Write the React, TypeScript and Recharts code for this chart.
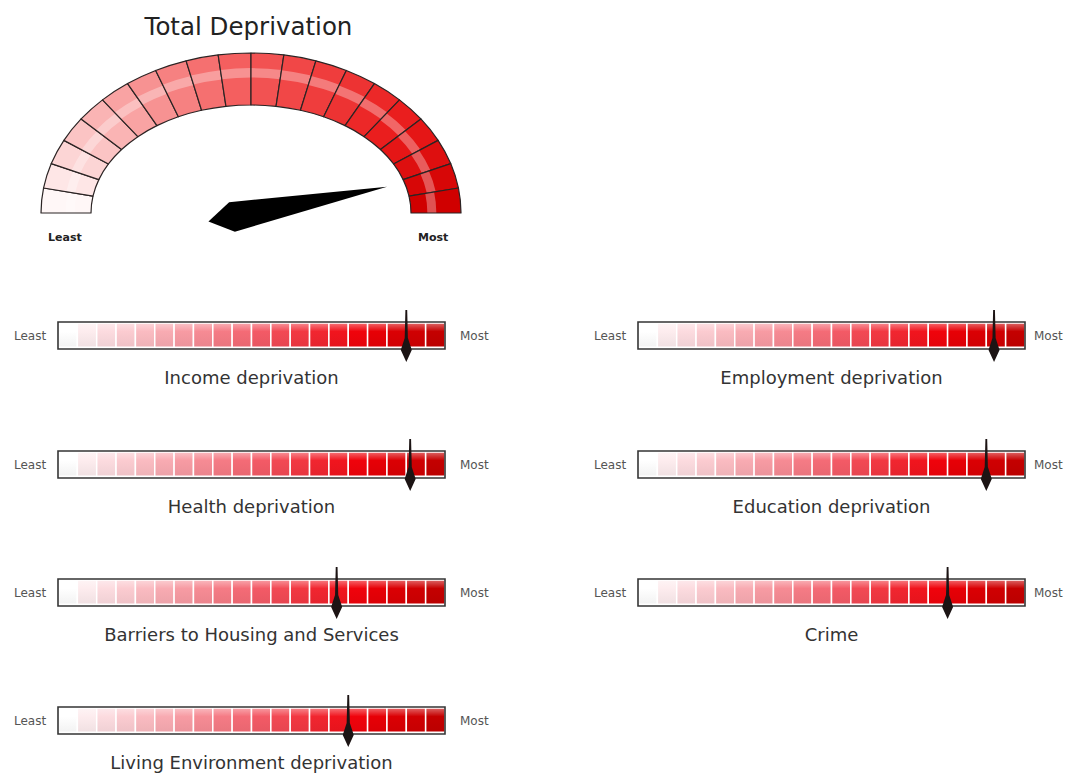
import React from "react";
import {
  PieChart,
  Pie,
  Cell,
  BarChart,
  Bar,
  XAxis,
  YAxis,
  ReferenceArea,
  ReferenceLine,
  Customized,
} from "recharts";

// Overall score on the dial, 0 = least deprived, 100 = most deprived
const totalScore = 92;
const dialSegments = [1, 1, 1, 1, 1, 1, 1, 1, 1, 1, 1, 1, 1, 1, 1, 1, 1, 1, 1, 1];
const scaleEnds = ["Least", "Most"];

// Domain scores on the same 0-100 scale
const domainTitles = [
  "Income deprivation",
  "Employment deprivation",
  "Health deprivation",
  "Education deprivation",
  "Barriers to Housing and Services",
  "Crime",
  "Living Environment deprivation",
];
const domainScores = [90, 92, 91, 90, 72, 80, 75];

// Twenty equal bands across each bar
const bandWidths = [5, 5, 5, 5, 5, 5, 5, 5, 5, 5, 5, 5, 5, 5, 5, 5, 5, 5, 5, 5];

const FONT = '"DejaVu Sans", "Noto Sans", sans-serif';
const DIAL = { cx: 251, cy: 213, ryOut: 160, ryIn: 108 };
const COLS = [0, 580];
const ROWS = [322, 451, 579, 707];

type Stop = [number, string];

function rgb(h: string) {
  return [1, 3, 5].map((i) => parseInt(h.slice(i, i + 2), 16));
}

function ramp(stops: Stop[], t: number) {
  let k = 0;
  while (k < stops.length - 2 && t > stops[k + 1][0]) k++;
  const [t0, c0] = stops[k];
  const [t1, c1] = stops[k + 1];
  const f = Math.min(1, Math.max(0, (t - t0) / (t1 - t0)));
  const a = rgb(c0);
  const b = rgb(c1);
  return `rgb(${a.map((v, i) => Math.round(v + (b[i] - v) * f)).join(",")})`;
}

function blend(color: string, target: number, f: number) {
  const m = color.match(/\d+/g)!.map(Number);
  return `rgb(${m.map((v) => Math.round(v + (target - v) * f)).join(",")})`;
}

const dialRamp: Stop[] = [
  [0, "#fff7f7"],
  [0.5, "#f35757"],
  [0.8, "#ea1c1c"],
  [1, "#d00000"],
];
const barRamp: Stop[] = [
  [0, "#ffffff"],
  [0.06, "#fde9ec"],
  [0.5, "#f3636f"],
  [0.8, "#f00008"],
  [1, "#c40000"],
];

function ellipsePoint(cx: number, cy: number, rx: number, ry: number, deg: number) {
  const r = (deg * Math.PI) / 180;
  return [cx + rx * Math.cos(r), cy - ry * Math.sin(r)];
}

function ringPath(
  cx: number,
  cy: number,
  rxO: number,
  ryO: number,
  rxI: number,
  ryI: number,
  a0: number,
  a1: number
) {
  const sweep = a0 > a1 ? 1 : 0;
  const [x0, y0] = ellipsePoint(cx, cy, rxO, ryO, a0);
  const [x1, y1] = ellipsePoint(cx, cy, rxO, ryO, a1);
  const [x2, y2] = ellipsePoint(cx, cy, rxI, ryI, a1);
  const [x3, y3] = ellipsePoint(cx, cy, rxI, ryI, a0);
  return `M${x0},${y0} A${rxO},${ryO} 0 0 ${sweep} ${x1},${y1} L${x2},${y2} A${rxI},${ryI} 0 0 ${1 - sweep} ${x3},${y3} Z`;
}

// Elliptical dial segment with a glossy band running through it
function DialSector(props: any) {
  const { cx, cy, startAngle, endAngle, innerRadius, outerRadius, fill } = props;
  const { ryOut, ryIn } = DIAL;
  const mid = ((startAngle + endAngle) / 2) * (Math.PI / 180);
  const c = 0.4 + 0.22 * Math.sin(mid);
  const at = (f: number) => [
    innerRadius + f * (outerRadius - innerRadius),
    ryIn + f * (ryOut - ryIn),
  ];
  const [bx0, by0] = at(c - 0.09);
  const [bx1, by1] = at(c + 0.09);
  const outline = ringPath(cx, cy, outerRadius, ryOut, innerRadius, ryIn, startAngle, endAngle);
  return (
    <g>
      <path d={outline} fill={fill} />
      <path
        d={ringPath(cx, cy, bx1, by1, bx0, by0, startAngle, endAngle)}
        fill="#ffffff"
        fillOpacity={0.32}
      />
      <path d={outline} fill="none" stroke="#2b2424" strokeWidth={1.2} strokeLinejoin="round" />
    </g>
  );
}

function DialNeedle() {
  const t = Math.PI * (1 - totalScore / 100);
  let dx = 210 * Math.cos(t);
  let dy = -DIAL.ryOut * Math.sin(t);
  const len = Math.hypot(dx, dy);
  dx /= len;
  dy /= len;
  const px = DIAL.cx - 19;
  const py = DIAL.cy + 4;
  const pts = [
    [px + 158 * dx, py + 158 * dy],
    [px - 15 * dy, py + 15 * dx],
    [px - 24 * dx, py - 24 * dy],
    [px + 15 * dy, py - 15 * dx],
  ];
  return <polygon points={pts.map((p) => p.join(",")).join(" ")} fill="#000" />;
}

// Thin pin that ends in a diamond just under the bar
function PinMarker(props: any) {
  const x = props.x1;
  const top = Math.min(props.y1, props.y2);
  const bottom = Math.max(props.y1, props.y2);
  const d = `M${x - 0.9},${top - 12} L${x + 0.9},${top - 12} L${x + 1.6},${bottom - 11} L${x + 5.5},${bottom + 1} L${x},${bottom + 13} L${x - 5.5},${bottom + 1} L${x - 1.6},${bottom - 11} Z`;
  return <path d={d} fill="#1c1414" />;
}

function DomainGauge({
  title,
  score,
  left,
  top,
  mostX,
}: {
  title: string;
  score: number;
  left: number;
  top: number;
  mostX: number;
}) {
  const row: Record<string, string | number> = { name: title };
  bandWidths.forEach((w, i) => (row[`b${i}`] = w));
  return (
    <>
      <div style={{ position: "absolute", left, top: top - 20, width: 500, height: 120 }}>
        <BarChart
          width={500}
          height={120}
          data={[row]}
          layout="vertical"
          margin={{ top: 20, right: 55, bottom: 73, left: 58 }}
          barCategoryGap={0}
        >
          <XAxis type="number" domain={[0, 100]} hide />
          <YAxis type="category" dataKey="name" hide />
          {bandWidths.map((_, i) => (
            <Bar
              key={i}
              dataKey={`b${i}`}
              stackId="scale"
              fill={`url(#cell${i})`}
              stroke="#ffffff"
              strokeWidth={1.5}
              barSize={27}
              isAnimationActive={false}
            />
          ))}
          <ReferenceArea
            x1={0}
            x2={100}
            fill="none"
            stroke="#353535"
            strokeWidth={1.6}
            zIndex={900}
          />
          <ReferenceLine x={score} shape={PinMarker} zIndex={1000} />
        </BarChart>
      </div>
      <div style={{ ...smallLabel, left: left + 14, top: top + 7 }}>{scaleEnds[0]}</div>
      <div style={{ ...smallLabel, left: mostX, top: top + 7 }}>{scaleEnds[1]}</div>
      <div
        style={{
          position: "absolute",
          left: left + 58,
          width: 387,
          top: top + 45,
          textAlign: "center",
          fontFamily: FONT,
          fontSize: 18,
          lineHeight: "22px",
          color: "#333",
          whiteSpace: "nowrap",
        }}
      >
        {title}
      </div>
    </>
  );
}

const smallLabel: React.CSSProperties = {
  position: "absolute",
  fontFamily: FONT,
  fontSize: 12,
  lineHeight: "14px",
  color: "#555",
  whiteSpace: "nowrap",
};

export default function App() {
  const dialData = dialSegments.map((v, i) => ({ name: `seg${i}`, value: v }));
  return (
    <div
      style={{
        position: "absolute",
        left: 0,
        top: 0,
        width: 1067,
        height: 773,
        overflow: "hidden",
        background: "#fff",
      }}
    >
      <svg width={0} height={0} style={{ position: "absolute" }}>
        <defs>
          {bandWidths.map((_, i) => {
            const c = ramp(barRamp, i / (bandWidths.length - 1));
            return (
              <linearGradient key={i} id={`cell${i}`} x1="0" y1="0" x2="0" y2="1">
                <stop offset="0%" stopColor={blend(c, 255, 0.4)} />
                <stop offset="35%" stopColor={c} />
                <stop offset="100%" stopColor={blend(c, 0, 0.05)} />
              </linearGradient>
            );
          })}
        </defs>
      </svg>

      <div
        style={{
          position: "absolute",
          left: 0,
          width: 497,
          top: 13,
          textAlign: "center",
          fontFamily: FONT,
          fontSize: 24.5,
          lineHeight: "28px",
          color: "#222",
        }}
      >
        Total Deprivation
      </div>

      <div style={{ position: "absolute", left: 0, top: 0 }}>
        <PieChart width={500} height={260} margin={{ top: 0, right: 0, bottom: 0, left: 0 }}>
          <Pie
            data={dialData}
            dataKey="value"
            cx={DIAL.cx}
            cy={DIAL.cy}
            startAngle={180}
            endAngle={0}
            innerRadius={160}
            outerRadius={210}
            paddingAngle={0}
            shape={DialSector}
            isAnimationActive={false}
          >
            {dialData.map((_, i) => (
              <Cell key={i} fill={ramp(dialRamp, i / (dialData.length - 1))} />
            ))}
          </Pie>
          <Customized component={DialNeedle} />
        </PieChart>
      </div>
      <div style={{ ...smallLabel, left: 48, top: 231, fontSize: 11, fontWeight: 700, color: "#222" }}>
        {scaleEnds[0]}
      </div>
      <div style={{ ...smallLabel, left: 418, top: 231, fontSize: 11, fontWeight: 700, color: "#222" }}>
        {scaleEnds[1]}
      </div>

      {domainTitles.map((title, i) => (
        <DomainGauge
          key={title}
          title={title}
          score={domainScores[i]}
          left={COLS[i % 2]}
          top={ROWS[Math.floor(i / 2)]}
          mostX={i % 2 === 0 ? 460 : 1034}
        />
      ))}
    </div>
  );
}
